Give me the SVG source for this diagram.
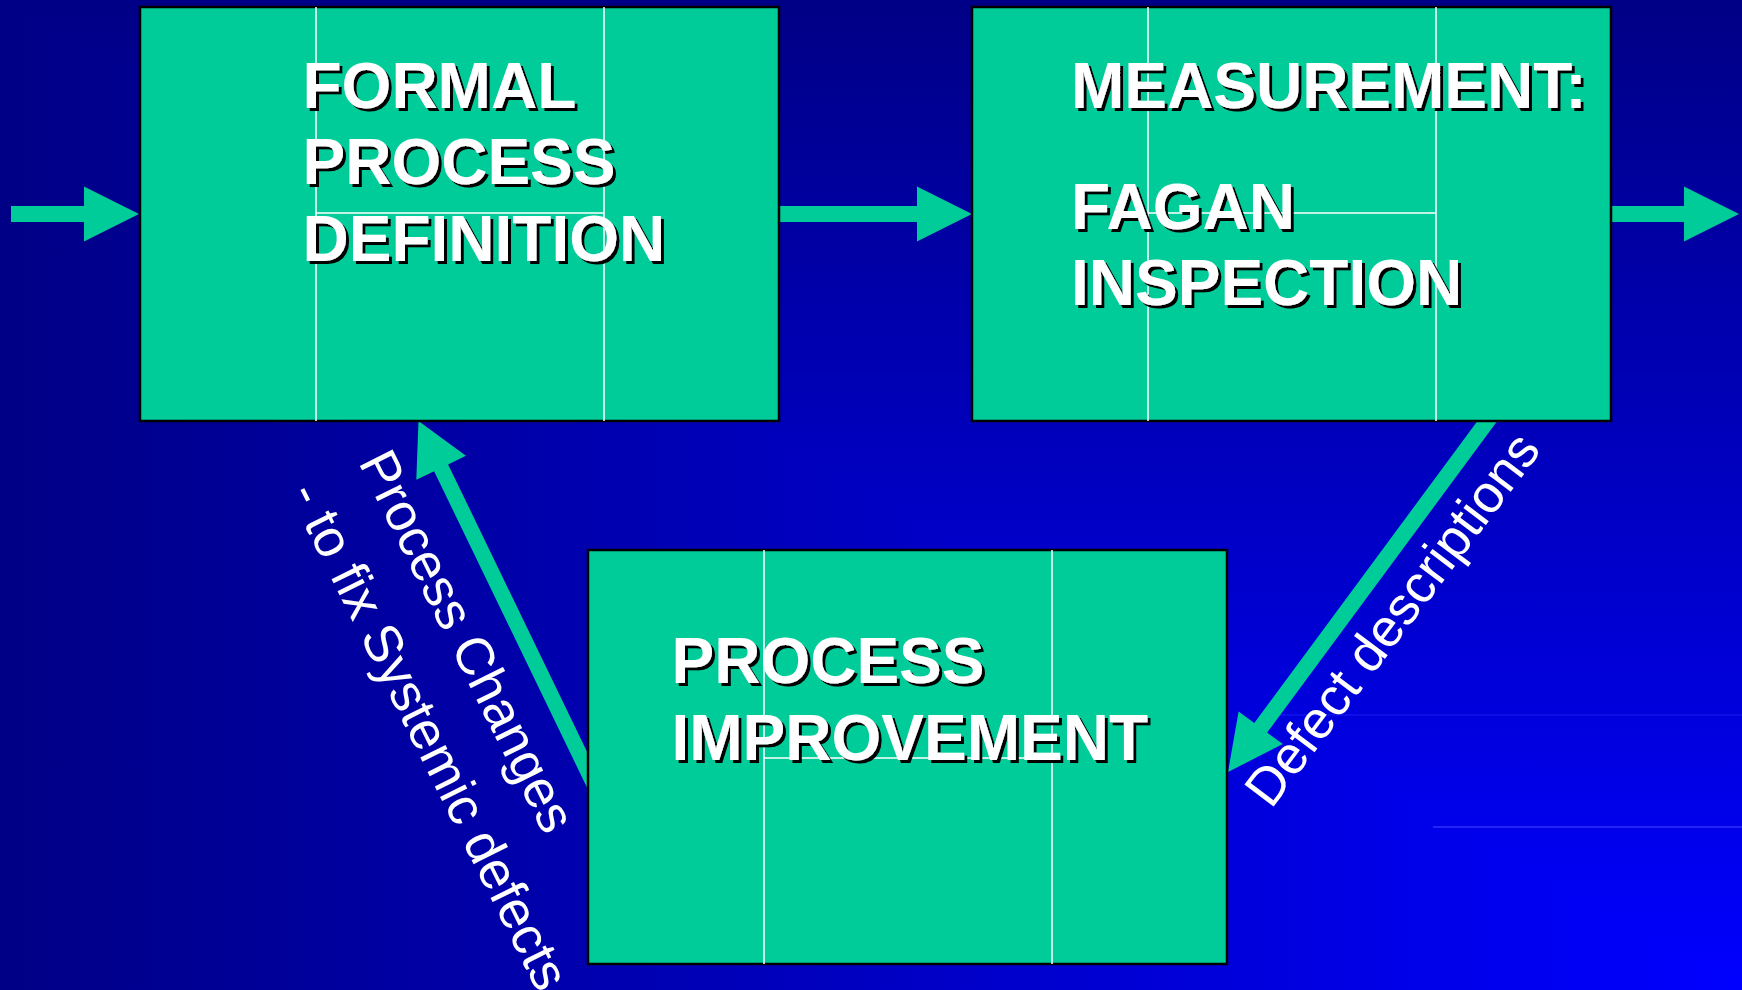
<svg xmlns="http://www.w3.org/2000/svg" width="1742" height="990" viewBox="0 0 1742 990">
  <defs>
    <linearGradient id="gx" gradientUnits="userSpaceOnUse" x1="0" y1="0" x2="1742" y2="0">
      <stop offset="0" stop-color="#000086"/>
      <stop offset="1" stop-color="#0000FF"/>
    </linearGradient>
    <linearGradient id="gy" gradientUnits="userSpaceOnUse" x1="0" y1="0" x2="0" y2="990">
      <stop offset="0" stop-color="#000086"/>
      <stop offset="1" stop-color="#0000FF"/>
    </linearGradient>
    <filter id="shadow" x="-5%" y="-5%" width="115%" height="130%">
      <feDropShadow dx="3" dy="3" stdDeviation="0" flood-color="#000000" flood-opacity="1"/>
    </filter>
    <style>
      .box { fill: #00CC99; stroke: #000000; stroke-width: 2.5; }
      .grid { stroke: #FFFFFF; stroke-width: 1.5; fill: none; }
      .arrow { fill: #00CC99; stroke: none; }
      .title { font-family: "Liberation Sans", Arial, sans-serif; font-weight: bold; font-size: 64px; fill: #FFFFFF; filter: url(#shadow); }
      .label { font-family: "Liberation Sans", Arial, sans-serif; font-size: 53px; fill: #FFFFFF; }
      .seam { stroke-width: 1; }
    </style>
  </defs>

  <g id="background">
    <rect x="0" y="0" width="1742" height="990" fill="url(#gx)"/>
    <polygon points="0,0 1742,0 1742,990" fill="url(#gy)"/>
    <line class="seam" x1="1280" y1="715" x2="1742" y2="715" stroke="#1c1cf0"/>
    <line class="seam" x1="1433" y1="827" x2="1742" y2="827" stroke="#4a4aff"/>
  </g>

  <g id="connectors">
    <polygon class="arrow" points="11,206 84,206 84,186.5 139,214 84,241.5 84,222 11,222"/>
    <polygon class="arrow" points="779,206 917,206 917,186.5 972,214 917,241.5 917,222 779,222"/>
    <polygon class="arrow" points="1611,206 1684,206 1684,186.5 1739,214 1684,241.5 1684,222 1611,222"/>
    <polygon class="arrow" points="418.5,421 465.9,455.8 448.1,464.4 608.7,796.6 594.7,803.4 434.1,471.2 416.3,479.8"/>
    <polygon class="arrow" points="1228,772 1238.6,711.5 1254.3,723 1496.5,395.2 1509.3,404.8 1267.1,732.6 1282.8,744.1"/>
    <g transform="translate(358,462) rotate(63.5)">
      <text class="label" x="0" y="0">Process Changes</text>
      <text class="label" x="-3" y="76">- to fix Systemic defects</text>
    </g>
    <text class="label" transform="translate(1271,810) rotate(-53)" x="0" y="0">Defect descriptions</text>
  </g>

  <g id="node-formal-process-definition">
    <rect class="box" x="140" y="7" width="639" height="414"/>
    <path class="grid" d="M316,7 V421 M604,7 V421 M316,213 H604"/>
    <text class="title" x="302.5" y="108">FORMAL</text>
    <text class="title" x="302.5" y="184">PROCESS</text>
    <text class="title" x="302.5" y="261">DEFINITION</text>
  </g>

  <g id="node-measurement">
    <rect class="box" x="972" y="7" width="639" height="414"/>
    <path class="grid" d="M1148,7 V421 M1436,7 V421 M1148,213 H1436"/>
    <text class="title" x="1071" y="108">MEASUREMENT:</text>
    <text class="title" x="1071" y="229">FAGAN</text>
    <text class="title" x="1071" y="305">INSPECTION</text>
  </g>

  <g id="node-process-improvement">
    <rect class="box" x="588" y="550" width="639" height="414"/>
    <path class="grid" d="M764,550 V964 M1052,550 V964 M764,758 H1052"/>
    <text class="title" x="671.5" y="683">PROCESS</text>
    <text class="title" x="671.5" y="760">IMPROVEMENT</text>
  </g>
</svg>
